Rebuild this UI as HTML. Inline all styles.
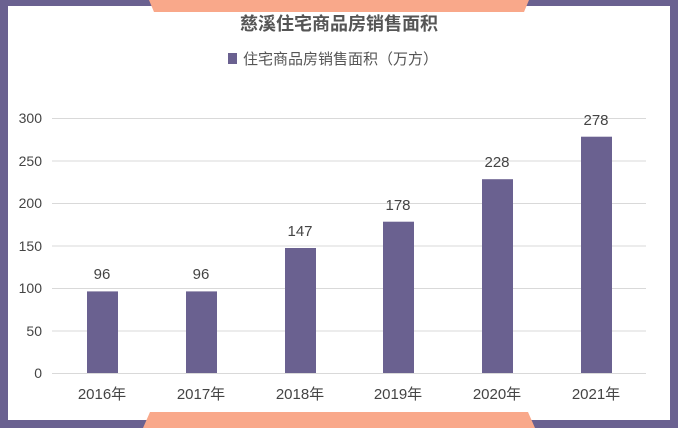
<!DOCTYPE html><html><head><meta charset="utf-8"><style>
body{margin:0;width:678px;height:428px;overflow:hidden;background:#6a6190;font-family:"Liberation Sans","Noto Sans CJK SC",sans-serif}
</style></head><body>
<svg width="678" height="428" xmlns="http://www.w3.org/2000/svg" style="position:absolute;left:0;top:0">
<rect x="0" y="0" width="678" height="428" fill="#6a6190"/>
<rect x="8" y="6" width="662" height="414" fill="#fff"/>
<polygon points="149,0 529,0 524,12 154,12" fill="#f9a88a"/>
<polygon points="143,428 150,412 528,412 535,428" fill="#f9a88a"/>
<text x="339" y="30" text-anchor="middle" font-size="18" font-weight="bold" fill="#555">慈溪住宅商品房销售面积</text>
<rect x="228" y="53" width="9" height="11" fill="#6a6190"/>
<text x="243" y="64" font-size="15" fill="#555">住宅商品房销售面积（万方）</text>
<g stroke="#d9d9d9" stroke-width="1">
<line x1="52" x2="646" y1="118.5" y2="118.5"/><line x1="52" x2="646" y1="161" y2="161"/><line x1="52" x2="646" y1="203.5" y2="203.5"/><line x1="52" x2="646" y1="246" y2="246"/><line x1="52" x2="646" y1="288.5" y2="288.5"/><line x1="52" x2="646" y1="331" y2="331"/><line x1="52" x2="646" y1="373.5" y2="373.5"/>
</g>
<g font-size="14" fill="#444" text-anchor="end">
<text x="42" y="123">300</text><text x="42" y="166">250</text><text x="42" y="208">200</text><text x="42" y="251">150</text><text x="42" y="293">100</text><text x="42" y="336">50</text><text x="42" y="378">0</text>
</g>
<g fill="#6a6190">
<rect x="87" y="291.4" width="31" height="81.6"/>
<rect x="186" y="291.4" width="31" height="81.6"/>
<rect x="285" y="248" width="31" height="125"/>
<rect x="383" y="221.7" width="31" height="151.3"/>
<rect x="482" y="179.2" width="31" height="193.8"/>
<rect x="581" y="136.7" width="31" height="236.3"/>
</g>
<g font-size="15" fill="#444" text-anchor="middle">
<text x="102" y="279">96</text><text x="201" y="279">96</text><text x="300" y="236">147</text><text x="398" y="210">178</text><text x="497" y="167">228</text><text x="596" y="125">278</text>
</g>
<g font-size="15" fill="#444" text-anchor="middle">
<text x="102" y="399">2016年</text><text x="201" y="399">2017年</text><text x="300" y="399">2018年</text><text x="398" y="399">2019年</text><text x="497" y="399">2020年</text><text x="596" y="399">2021年</text>
</g>
</svg>
</body></html>
